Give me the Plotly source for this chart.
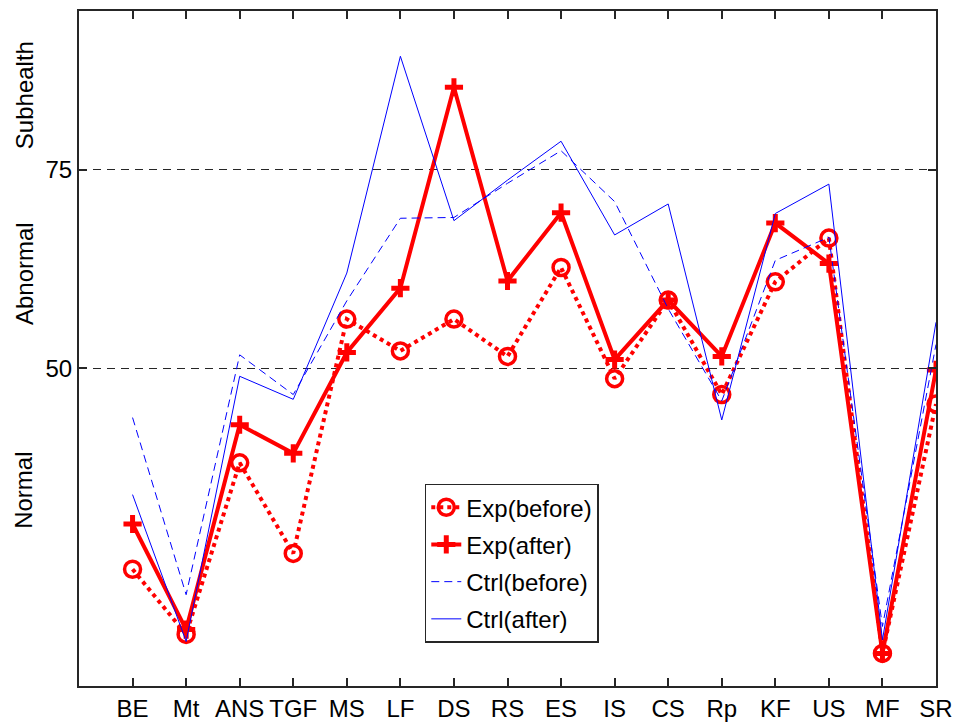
import plotly.graph_objects as go

categories = ["BE", "Mt", "ANS", "TGF", "MS", "LF", "DS", "RS", "ES", "IS", "CS", "Rp", "KF", "US", "MF", "SR"]
exp_before = [24.7, 16.5, 38.1, 26.7, 56.2, 52.2, 56.2, 51.5, 62.7, 48.7, 58.6, 46.7, 60.9, 66.4, 14.1, 45.5]
exp_after = [30.4, 17.1, 42.9, 39.3, 52.0, 60.1, 85.4, 61.0, 69.6, 51.1, 58.6, 51.5, 68.3, 63.2, 14.1, 49.8]
ctrl_before = [43.8, 21.5, 51.7, 46.7, 58.5, 68.9, 69.0, 73.3, 77.4, 71.0, 57.5, 45.9, 63.6, 66.5, 17.5, 53.0]
ctrl_after = [34.1, 15.6, 49.0, 46.1, 62.0, 89.3, 68.6, 73.7, 78.6, 66.8, 70.7, 43.5, 69.5, 73.2, 15.8, 55.8]
y_ticks = [50, 75]
zone_labels = ["Subhealth", "Abnormal", "Normal"]
zone_label_y = [84.4, 62.0, 34.7]

x = list(range(1, len(categories) + 1))
FONT = "Liberation Sans, Arial, sans-serif"
AX = "#262626"
FS = 24

fig = go.Figure()
fig.add_trace(go.Scatter(
    x=x, y=exp_before, name="Exp(before)", mode="lines+markers", legendgroup="a",
    line=dict(color="#ff0000", width=4, dash="4px,4px"),
    marker=dict(symbol="circle-open", size=16, color="#ff0000", line=dict(width=3.5, color="#ff0000")),
))
fig.add_trace(go.Scatter(
    x=x, y=exp_after, name="Exp(after)", mode="lines+markers", legendgroup="b",
    line=dict(color="#ff0000", width=4),
    marker=dict(symbol="cross-thin-open", size=13, color="#ff0000", line=dict(width=5, color="#ff0000")),
))
fig.add_trace(go.Scatter(
    x=x, y=ctrl_before, name="Ctrl(before)", mode="lines", legendgroup="c",
    line=dict(color="#0000ff", width=1, dash="8px,5px"),
))
fig.add_trace(go.Scatter(
    x=x, y=ctrl_after, name="Ctrl(after)", mode="lines", legendgroup="d",
    line=dict(color="#0000ff", width=1),
))

for lab, yy in zip(zone_labels, zone_label_y):
    fig.add_annotation(text=lab, xref="paper", yref="y", x=-0.0642, y=yy,
                       textangle=-90, showarrow=False, xanchor="center", yanchor="middle",
                       font=dict(family=FONT, size=FS, color="#000000"))

fig.update_layout(
    width=953, height=722,
    margin=dict(l=79, r=17, t=11, b=36),
    paper_bgcolor="white", plot_bgcolor="white",
    font=dict(family=FONT, size=FS, color="#000000"),
    legend=dict(
        x=0.505, y=0.182, xanchor="center", yanchor="middle",
        bgcolor="white", bordercolor=AX, borderwidth=1.5,
        font=dict(family=FONT, size=FS, color="#000000"),
        tracegroupgap=3, traceorder="grouped",
    ),
    xaxis=dict(
        range=[0, 16], tickvals=x, ticktext=categories, automargin=False,
        showline=True, linecolor=AX, linewidth=2, mirror="allticks",
        ticks="inside", ticklen=8, tickwidth=1.5, tickcolor=AX, showgrid=False, zeroline=False,
        tickfont=dict(family=FONT, size=FS),
    ),
    yaxis=dict(
        range=[10, 95], tickvals=y_ticks, ticktext=[str(v) for v in y_ticks], automargin=False,
        showline=True, linecolor=AX, linewidth=2, mirror="allticks",
        ticks="inside", ticklen=8, tickwidth=1.5, tickcolor=AX,
        showgrid=True, gridcolor=AX, gridwidth=1, griddash="8px,6px", zeroline=False,
        tickfont=dict(family=FONT, size=FS),
    ),
)

fig.write_html("out.html")
